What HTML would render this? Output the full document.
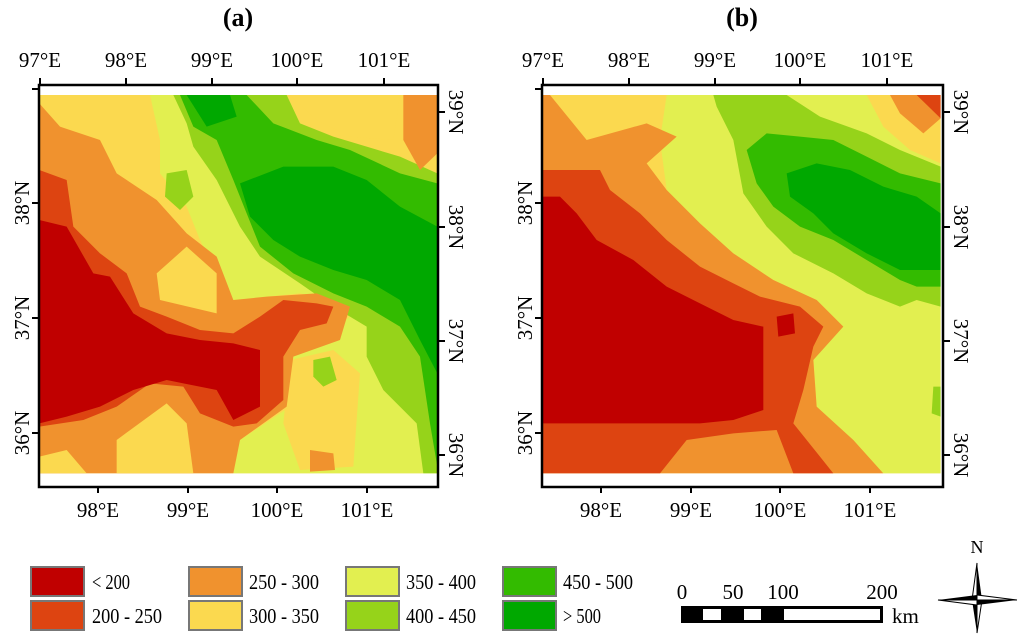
<!DOCTYPE html>
<html><head><meta charset="utf-8"><style>
body{margin:0;background:#fff}
svg{display:block;font-family:"Liberation Serif",serif}
</style></head><body>
<svg width="1024" height="640" viewBox="0 0 1024 640">
<defs>
<clipPath id="ca"><rect x="118" y="165" width="1194" height="1135"/></clipPath>
<clipPath id="cb"><rect x="128" y="165" width="1194" height="1135"/></clipPath>
</defs>
<rect width="1024" height="640" fill="#fff"/>
<text x="238" y="26" font-size="26" font-weight="bold" text-anchor="middle">(a)</text>
<text x="742" y="26" font-size="26" font-weight="bold" text-anchor="middle">(b)</text>

<g transform="translate(0,40) scale(0.33333)" clip-path="url(#ca)">
<rect x="118" y="165" width="1194" height="1135" fill="#fbd94f"/>
<polygon fill="#e2ef50" points="450,165 860,165 900,250 1000,300 1100,330 1200,360 1312,420 1312,1300 700,1300 720,1200 870,1100 860,950 950,900 1050,830 1000,780 900,760 800,770 700,800 650,700 600,600 560,500 480,400 480,300"/>
<polygon fill="#fbd94f" points="870,165 1200,165 1180,300 1050,290 950,240"/>
<polygon fill="#fbd94f" points="870,960 1000,930 1080,1000 1060,1280 900,1290 850,1150"/>
<polygon fill="#96d31a" points="520,165 860,165 900,250 1000,290 1100,320 1200,350 1312,400 1312,1300 1270,1300 1250,1150 1150,1050 1100,950 1100,860 1000,800 900,730 780,650 720,560 650,420 580,320 560,250"/>
<polygon fill="#96d31a" points="500,400 560,390 580,470 540,510 495,470"/>
<polygon fill="#96d31a" points="940,960 990,950 1010,1020 970,1040 940,1010"/>
<polygon fill="#33bb00" points="540,165 740,165 820,250 950,300 1050,330 1200,400 1312,430 1312,1280 1290,1150 1260,950 1200,860 1100,800 1000,760 880,700 780,620 740,520 700,420 650,300 580,260"/>
<polygon fill="#00a800" points="720,430 850,380 1000,380 1100,420 1200,500 1312,560 1312,1000 1260,900 1200,780 1100,720 1000,690 900,650 820,600 750,530"/>
<polygon fill="#00a800" points="560,165 690,165 710,230 620,260"/>
<polygon fill="#f0922e" points="118,190 180,260 300,300 350,400 470,480 560,580 650,650 700,780 800,770 950,760 1050,800 1020,900 880,950 860,1100 720,1200 700,1300 118,1300"/>
<polygon fill="#f0922e" points="1210,165 1312,165 1312,340 1260,390 1210,300"/>
<polygon fill="#f0922e" points="930,1230 1000,1240 1005,1290 930,1295"/>
<polygon fill="#fbd94f" points="470,700 560,620 650,700 650,820 480,780"/>
<polygon fill="#fbd94f" points="350,1200 500,1090 560,1150 580,1300 350,1300"/>
<polygon fill="#fbd94f" points="118,1250 200,1230 260,1300 118,1300"/>
<polygon fill="#dd4411" points="118,390 200,420 220,560 300,640 380,700 420,800 500,830 600,870 700,880 780,830 850,780 950,790 1000,800 980,850 900,870 850,950 850,1080 770,1150 700,1160 600,1120 550,1040 450,1030 350,1100 250,1140 118,1160"/>
<polygon fill="#c00000" points="118,540 200,560 280,700 330,710 400,820 500,880 600,900 700,910 780,930 780,1100 700,1140 650,1050 550,1030 500,1020 400,1050 300,1100 200,1130 118,1150"/>
</g>

<g transform="translate(500,40) scale(0.33333)" clip-path="url(#cb)">
<rect x="128" y="165" width="1194" height="1135" fill="#fbd94f"/>
<polygon fill="#e2ef50" points="500,165 1100,165 1200,250 1322,300 1322,1300 1150,1300 1050,1200 950,1100 940,950 1000,870 1020,850 950,780 820,720 700,640 600,560 500,450 480,300"/>
<polygon fill="#96d31a" points="640,165 860,165 960,230 1100,280 1200,330 1322,380 1322,800 1250,780 1200,800 1100,760 1000,700 880,640 800,560 730,460 700,300 650,200"/>
<polygon fill="#96d31a" points="1300,1040 1322,1040 1322,1130 1295,1120"/>
<polygon fill="#33bb00" points="740,330 800,280 900,290 1000,300 1100,350 1200,400 1322,430 1322,740 1250,740 1200,720 1100,660 1000,600 900,560 820,500 770,430"/>
<polygon fill="#00a800" points="860,400 950,370 1050,390 1150,440 1250,470 1322,520 1322,690 1200,690 1100,640 1000,580 940,520 870,470"/>
<polygon fill="#fbd94f" points="1100,165 1322,165 1322,370 1230,330 1150,260"/>
<polygon fill="#f0922e" points="128,165 150,165 260,300 440,250 530,290 440,370 500,450 600,550 700,640 820,720 950,780 1030,860 940,960 950,1100 1060,1200 1150,1300 128,1300"/>
<polygon fill="#f0922e" points="1170,165 1322,165 1322,235 1270,280 1200,220"/>
<polygon fill="#dd4411" points="1250,165 1322,165 1322,235"/>
<polygon fill="#dd4411" points="128,390 300,390 330,450 420,520 500,600 600,680 700,730 780,770 900,800 970,860 940,920 910,1050 880,1150 960,1250 1000,1300 880,1300 830,1170 700,1180 560,1200 480,1300 128,1300"/>
<polygon fill="#c00000" points="128,470 180,470 230,520 290,600 400,660 500,740 600,790 700,840 790,860 790,1110 700,1140 600,1150 400,1150 200,1150 128,1150"/>
<polygon fill="#c00000" points="830,830 880,820 885,880 835,890"/>
</g>

<g fill="none" stroke="#000" stroke-width="2.5">
<rect x="39" y="85" width="399" height="402"/>
<rect x="542" y="85" width="401" height="402"/>
</g>
<g id="axes" stroke="#000" stroke-width="2" font-size="21"></g>

<g font-size="21">
<g stroke="#777" stroke-width="2">
<rect x="31" y="567" width="53" height="29" fill="#c00000"/>
<rect x="31" y="601" width="53" height="29" fill="#dd4411"/>
<rect x="189" y="567" width="53" height="29" fill="#f0922e"/>
<rect x="189" y="601" width="53" height="29" fill="#fbd94f"/>
<rect x="346" y="567" width="53" height="29" fill="#e2ef50"/>
<rect x="346" y="601" width="53" height="29" fill="#96d31a"/>
<rect x="503" y="567" width="53" height="29" fill="#33bb00"/>
<rect x="503" y="601" width="53" height="29" fill="#00a800"/>
</g>
<text x="92" y="589" textLength="38" lengthAdjust="spacingAndGlyphs">&lt; 200</text>
<text x="92" y="623" textLength="70" lengthAdjust="spacingAndGlyphs">200 - 250</text>
<text x="249" y="589" textLength="70" lengthAdjust="spacingAndGlyphs">250 - 300</text>
<text x="249" y="623" textLength="70" lengthAdjust="spacingAndGlyphs">300 - 350</text>
<text x="406" y="589" textLength="70" lengthAdjust="spacingAndGlyphs">350 - 400</text>
<text x="406" y="623" textLength="70" lengthAdjust="spacingAndGlyphs">400 - 450</text>
<text x="563" y="589" textLength="70" lengthAdjust="spacingAndGlyphs">450 - 500</text>
<text x="563" y="623" textLength="38" lengthAdjust="spacingAndGlyphs">&gt; 500</text>
</g>
<g font-size="21">
<rect x="681" y="606" width="202" height="17" fill="#000"/>
<rect x="703" y="609" width="18" height="11" fill="#fff"/>
<rect x="744" y="609" width="17" height="11" fill="#fff"/>
<rect x="784" y="609" width="96" height="11" fill="#fff"/>
<text x="682" y="599" text-anchor="middle">0</text>
<text x="733" y="599" text-anchor="middle">50</text>
<text x="783" y="599" text-anchor="middle">100</text>
<text x="882" y="599" text-anchor="middle">200</text>
<text x="892" y="623">km</text>
</g>
<g>
<text x="977" y="553" font-size="18" text-anchor="middle">N</text>
<polygon points="977,563 982,600 977,600" fill="#000"/>
<polygon points="977,563 972,600 977,600" fill="#fff" stroke="#000" stroke-width="1"/>
<polygon points="977,633 972,600 977,600" fill="#000"/>
<polygon points="977,633 982,600 977,600" fill="#fff" stroke="#000" stroke-width="1"/>
<polygon points="938,600 977,595 977,600" fill="#000"/>
<polygon points="938,600 977,605 977,600" fill="#fff" stroke="#000" stroke-width="1"/>
<polygon points="1017,600 977,605 977,600" fill="#000"/>
<polygon points="1017,600 977,595 977,600" fill="#fff" stroke="#000" stroke-width="1"/>
</g>
</svg>
<script>
const topLon = ["97°E","98°E","99°E","100°E","101°E"];
const botLon = ["98°E","99°E","100°E","101°E"];
const leftLat = ["38°N","37°N","36°N"];
const rightLat = ["39°N","38°N","37°N","36°N"];
const panels=[{dx:0,top:[40,126,212,297,384],bot:[98,188,277,367],left:[203,318,433],right:[112,227,341,455],fl:39,fr:438},
              {dx:503,top:[40,126,212,297,384],bot:[98,188,277,367],left:[203,318,433],right:[112,227,341,455],fl:39,fr:440}];
const ns="http://www.w3.org/2000/svg";
const g=document.getElementById('axes');
function line(x1,y1,x2,y2){const l=document.createElementNS(ns,'line');l.setAttribute('x1',x1);l.setAttribute('y1',y1);l.setAttribute('x2',x2);l.setAttribute('y2',y2);


g.appendChild(l);}
function txt(s,x,y,rot){const t=document.createElementNS(ns,'text');t.textContent=s;t.setAttribute('text-anchor','middle');t.setAttribute('stroke','none');t.setAttribute('fill','#000');
if(rot){t.setAttribute('transform','translate('+x+','+y+') rotate('+rot+')');}else{t.setAttribute('x',x);t.setAttribute('y',y);}


g.appendChild(t);}
panels.forEach(p=>{
 const d=p.dx;
 p.top.forEach((x,i)=>{line(x+d,78,x+d,85);txt(topLon[i],x+d,67);});
 p.bot.forEach((x,i)=>{line(x+d,487,x+d,493);txt(botLon[i],x+d,517);});
 line(p.fl+d-7,89,p.fl+d,89);
 p.left.forEach((y,i)=>{line(p.fl+d-7,y,p.fl+d,y);txt(leftLat[i],29+d,y,-90);});
 p.right.forEach((y,i)=>{line(p.fr+d,y,p.fr+d+7,y);txt(rightLat[i],p.fr+d+11,y,90);});
});
</script>
</body></html>
